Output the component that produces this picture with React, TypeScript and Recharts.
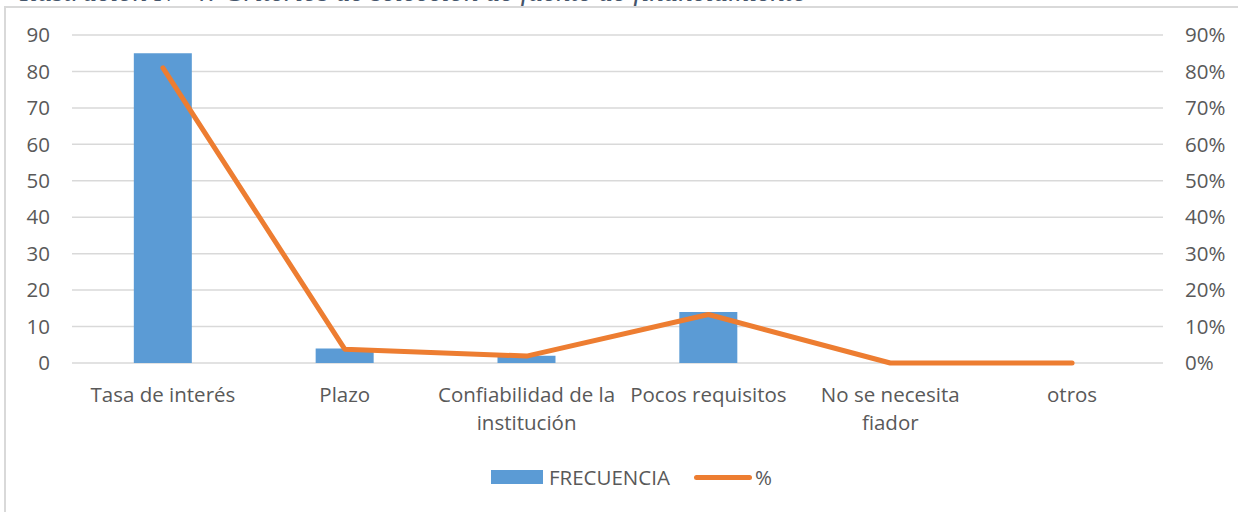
import { Bar, ComposedChart, CartesianGrid, Line, XAxis, YAxis } from "recharts";

const categories = [
  "Tasa de interés",
  "Plazo",
  "Confiabilidad de la institución",
  "Pocos requisitos",
  "No se necesita fiador",
  "otros",
];
const frecuencia = [85, 4, 2, 14, 0, 0];
const porcentaje = [0.81, 0.038, 0.019, 0.133, 0, 0];
const leftTicks = [0, 10, 20, 30, 40, 50, 60, 70, 80, 90];
const rightTicks = [0, 0.1, 0.2, 0.3, 0.4, 0.5, 0.6, 0.7, 0.8, 0.9];

const data = categories.map((name, i) => ({
  name,
  frecuencia: frecuencia[i],
  pct: porcentaje[i],
}));

const FONT = "'Open Sans', sans-serif";
const FS = 20.5;
const GREY = "#595959";

// simple word wrap, about as wide as one category band
function wrap(label: string, max = 19) {
  const lines: string[] = [];
  let cur = "";
  for (const w of label.split(" ")) {
    const next = cur ? cur + " " + w : w;
    if (next.length > max && cur) {
      lines.push(cur);
      cur = w;
    } else cur = next;
  }
  if (cur) lines.push(cur);
  return lines;
}

function XTick(props: any) {
  const { x, y, payload } = props;
  return (
    <text x={x} y={y} textAnchor="middle" fill={GREY} fontSize={FS} fontFamily={FONT}>
      {wrap(payload.value).map((line, i) => (
        <tspan key={i} x={x} dy={i === 0 ? "0.71em" : 28}>
          {line}
        </tspan>
      ))}
    </text>
  );
}

function LegendBox() {
  return (
    <div
      style={{
        position: "absolute",
        left: 491,
        top: 463,
        display: "flex",
        alignItems: "center",
        fontFamily: FONT,
        fontSize: FS,
        color: GREY,
        whiteSpace: "nowrap",
      }}
    >
      <span style={{ width: 52, height: 14, background: "#5b9bd5", display: "inline-block", marginRight: 6 }} />
      <span style={{ marginRight: 24 }}>FRECUENCIA</span>
      <span
        style={{ width: 58, height: 5, borderRadius: 3, background: "#ed7d31", display: "inline-block", marginRight: 3 }}
      />
      <span>%</span>
    </div>
  );
}

export default function App() {
  return (
    <div style={{ position: "absolute", left: 0, top: 0, width: 1238, height: 512, overflow: "hidden", background: "#fff" }}>
      <div
        style={{
          position: "absolute",
          left: 20,
          top: -23,
          fontFamily: "'Liberation Serif', serif",
          fontStyle: "italic",
          fontSize: 29,
          lineHeight: "29px",
          color: "#44546a",
          whiteSpace: "nowrap",
        }}
      >
        Ilustración N° 4: Criterios de selección de fuente de financiamiento
      </div>
      <div
        style={{
          position: "absolute",
          left: 4,
          top: 6,
          width: 1260,
          height: 540,
          border: "2px solid #d9d9d9",
          boxSizing: "border-box",
        }}
      />
      <div style={{ position: "absolute", left: 0, top: 0 }}>
        <ComposedChart
          width={1238}
          height={512}
          data={data}
          margin={{ top: 35, right: 0, left: 0, bottom: 0 }}
          barCategoryGap="34%"
        >
          <CartesianGrid vertical={false} stroke="#d9d9d9" strokeWidth={1.5} yAxisId="left" />
          <XAxis
            dataKey="name"
            axisLine={false}
            tickLine={false}
            height={149}
            interval={0}
            tick={<XTick />}
            tickMargin={18}
          />
          <YAxis
            yAxisId="left"
            domain={[0, 90]}
            ticks={leftTicks}
            axisLine={false}
            tickLine={false}
            width={72}
            tickMargin={16}
            tick={{ fill: GREY, fontSize: FS, fontFamily: FONT }}
          />
          <YAxis
            yAxisId="right"
            orientation="right"
            domain={[0, 0.9]}
            ticks={rightTicks}
            axisLine={false}
            tickLine={false}
            width={75}
            tickMargin={16}
            tick={{ fill: GREY, fontSize: FS, fontFamily: FONT, textAnchor: "start" }}
            tickFormatter={(v: number) => `${Math.round(v * 100)}%`}
          />
          <Bar yAxisId="left" dataKey="frecuencia" name="FRECUENCIA" fill="#5b9bd5" isAnimationActive={false} />
          <Line
            yAxisId="right"
            dataKey="pct"
            name="%"
            stroke="#ed7d31"
            strokeWidth={5}
            strokeLinecap="round"
            strokeLinejoin="round"
            dot={false}
            isAnimationActive={false}
          />
        </ComposedChart>
      </div>
      <LegendBox />
    </div>
  );
}
